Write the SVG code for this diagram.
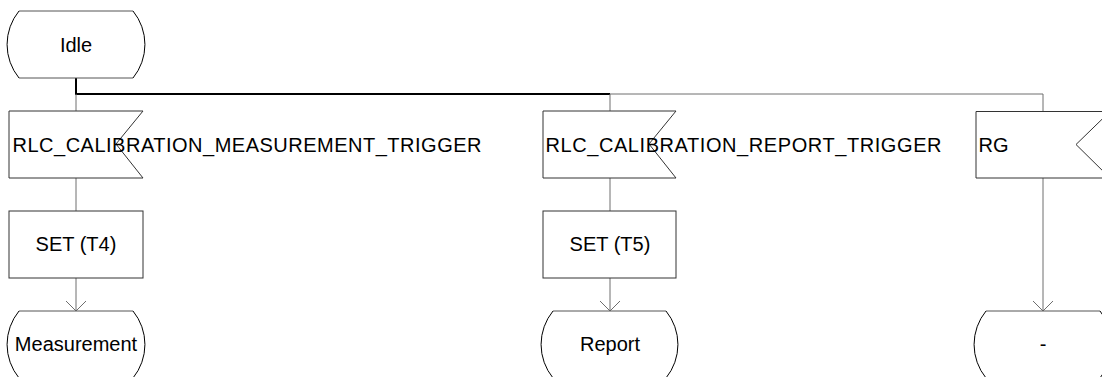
<svg xmlns="http://www.w3.org/2000/svg" width="1102" height="377" viewBox="0 0 1102 377">
<style>
text{font-family:"Liberation Sans",Arial,sans-serif;font-size:20px;fill:#000}
.c{text-anchor:middle}
.box{fill:#fff;stroke:#333;stroke-width:1}
.edge{fill:none;stroke:#6e6e6e;stroke-width:1}
.main{fill:none;stroke:#000;stroke-width:2}
.arc{fill:none;stroke:#000;stroke-width:1}
.sl{fill:none;stroke:#555;stroke-width:1}
</style>
<rect width="1102" height="377" fill="#fff"/>
<g id="connectors">
<path class="main" d="M76,78 V94 H610"/>
<path class="edge" d="M610,94 H1043 V111"/>
<path class="edge" d="M76,94 V111"/>
<path class="edge" d="M610,94 V111"/>
<path class="edge" d="M76,178 V211"/>
<path class="edge" d="M76,278 V311"/>
<path class="edge" d="M66,301 L76,311 L86,301"/>
<path class="edge" d="M610,178 V211"/>
<path class="edge" d="M610,278 V311"/>
<path class="edge" d="M600,301 L610,311 L620,301"/>
<path class="edge" d="M1043,178 V311"/>
<path class="edge" d="M1033,301 L1043,311 L1053,301"/>
</g>
<g id="idle">
<path class="sl" d="M19,11 H133 M19,78 H133"/>
<path class="arc" d="M19,11 A53,53 0 0 0 19,78 M133,11 A53,53 0 0 1 133,78"/>
<text class="c" x="76" y="52">Idle</text>
</g>
<g id="sig1">
<path class="box" d="M9,111 H143 L116,144 L143,178 H9 Z"/>
<text x="12.5" y="152" textLength="469" lengthAdjust="spacing">RLC_CALIBRATION_MEASUREMENT_TRIGGER</text>
</g>
<g id="set4">
<rect class="box" x="9" y="211" width="134" height="67"/>
<text class="c" x="76" y="251">SET (T4)</text>
</g>
<g id="measurement">
<path class="sl" d="M19,311 H133"/>
<path class="arc" d="M19,311 A53,53 0 0 0 19,378 M133,311 A53,53 0 0 1 133,378"/>
<text class="c" x="76" y="351">Measurement</text>
</g>
<g id="sig2">
<path class="box" d="M543,111 H676 L649,144 L676,178 H543 Z"/>
<text x="545.5" y="152" textLength="396" lengthAdjust="spacing">RLC_CALIBRATION_REPORT_TRIGGER</text>
</g>
<g id="set5">
<rect class="box" x="543" y="211" width="133" height="67"/>
<text class="c" x="610" y="251">SET (T5)</text>
</g>
<g id="report">
<path class="sl" d="M553,311 H666"/>
<path class="arc" d="M553,311 A53,53 0 0 0 553,378 M666,311 A53,53 0 0 1 666,378"/>
<text class="c" x="610" y="351">Report</text>
</g>
<g id="sigRG">
<path class="box" d="M976,111.5 H1110 L1076,144.5 L1110,178 H976 Z"/>
<text x="978.5" y="152">RG</text>
</g>
<g id="dash">
<path class="sl" d="M986,311 H1100"/>
<path class="arc" d="M986,311 A53,53 0 0 0 986,378 M1100,311 A53,53 0 0 1 1100,378"/>
<text class="c" x="1043" y="351">-</text>
</g>
</svg>
